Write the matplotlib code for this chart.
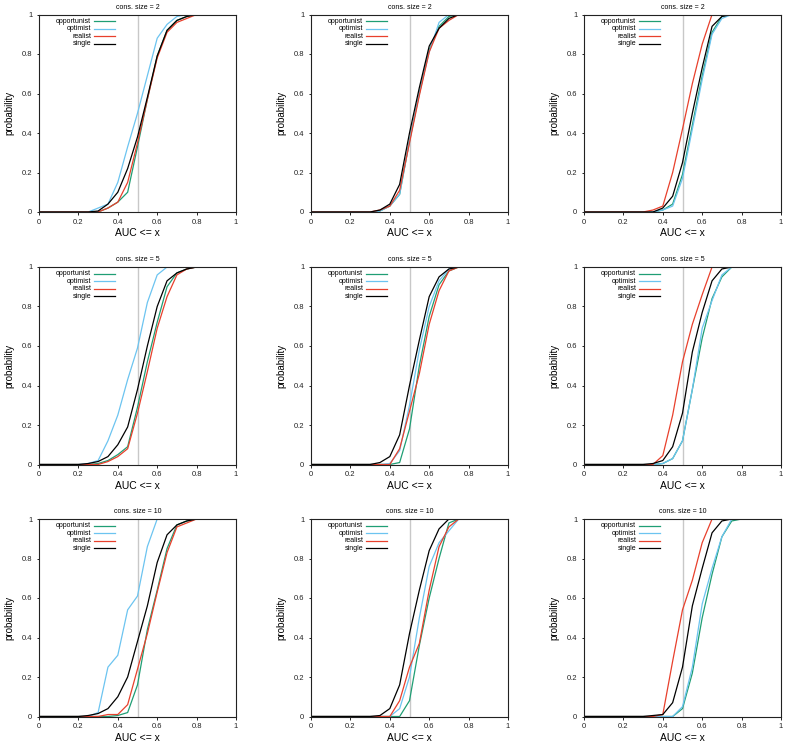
import matplotlib
matplotlib.use('Agg')
import matplotlib.pyplot as plt

plt.rcParams['font.family'] = ['Liberation Sans', 'DejaVu Sans']

auc = [0.0, 0.05, 0.1, 0.15, 0.2, 0.25, 0.3, 0.35, 0.4, 0.45, 0.5,
       0.55, 0.6, 0.65, 0.7, 0.75, 0.8, 0.85, 0.9, 0.95, 1.0]

strategies = ['opportunist', 'optimist', 'realist', 'single']
colors = {'opportunist': '#1f9e74', 'optimist': '#6cc4f0',
          'realist': '#e8402c', 'single': '#000000'}
cons_sizes = [2, 5, 10]

# rows = cons. size, columns = three experiments
c2_a_opportunist = [0, 0, 0, 0, 0, 0, 0, 0.02, 0.05, 0.10, 0.33, 0.57, 0.79, 0.92, 0.97, 0.99, 1, 1, 1, 1, 1]
c2_a_optimist = [0, 0, 0, 0, 0, 0, 0.02, 0.04, 0.15, 0.33, 0.50, 0.69, 0.88, 0.95, 0.99, 1, 1, 1, 1, 1, 1]
c2_a_realist = [0, 0, 0, 0, 0, 0, 0, 0.02, 0.05, 0.15, 0.35, 0.57, 0.78, 0.91, 0.96, 0.98, 1, 1, 1, 1, 1]
c2_a_single = [0, 0, 0, 0, 0, 0, 0.005, 0.04, 0.10, 0.22, 0.38, 0.58, 0.79, 0.92, 0.97, 0.99, 1, 1, 1, 1, 1]

c2_b_opportunist = [0, 0, 0, 0, 0, 0, 0, 0.005, 0.03, 0.09, 0.36, 0.60, 0.82, 0.94, 0.99, 1, 1, 1, 1, 1, 1]
c2_b_optimist = [0, 0, 0, 0, 0, 0, 0, 0.005, 0.03, 0.09, 0.36, 0.60, 0.81, 0.96, 1, 1, 1, 1, 1, 1, 1]
c2_b_realist = [0, 0, 0, 0, 0, 0, 0, 0.01, 0.03, 0.11, 0.35, 0.59, 0.81, 0.93, 0.97, 1, 1, 1, 1, 1, 1]
c2_b_single = [0, 0, 0, 0, 0, 0, 0, 0.01, 0.04, 0.14, 0.40, 0.63, 0.84, 0.93, 0.98, 1, 1, 1, 1, 1, 1]

c2_c_opportunist = [0, 0, 0, 0, 0, 0, 0, 0, 0.01, 0.04, 0.19, 0.44, 0.69, 0.91, 0.99, 1, 1, 1, 1, 1, 1]
c2_c_optimist = [0, 0, 0, 0, 0, 0, 0, 0, 0.01, 0.03, 0.17, 0.42, 0.67, 0.90, 0.98, 1, 1, 1, 1, 1, 1]
c2_c_realist = [0, 0, 0, 0, 0, 0, 0, 0.01, 0.03, 0.20, 0.42, 0.65, 0.85, 1, 1, 1, 1, 1, 1, 1, 1]
c2_c_single = [0, 0, 0, 0, 0, 0, 0, 0, 0.02, 0.08, 0.25, 0.50, 0.73, 0.94, 0.99, 1, 1, 1, 1, 1, 1]

c5_a_opportunist = [0, 0, 0, 0, 0, 0, 0.005, 0.02, 0.05, 0.09, 0.29, 0.52, 0.72, 0.90, 0.97, 0.99, 1, 1, 1, 1, 1]
c5_a_optimist = [0, 0, 0, 0, 0, 0.005, 0.02, 0.12, 0.25, 0.43, 0.59, 0.82, 0.96, 1, 1, 1, 1, 1, 1, 1, 1]
c5_a_realist = [0, 0, 0, 0, 0, 0, 0, 0.015, 0.04, 0.08, 0.26, 0.47, 0.69, 0.85, 0.96, 0.99, 1, 1, 1, 1, 1]
c5_a_single = [0, 0, 0, 0, 0, 0.005, 0.015, 0.04, 0.10, 0.19, 0.38, 0.60, 0.80, 0.93, 0.97, 0.99, 1, 1, 1, 1, 1]

c5_b_opportunist = [0, 0, 0, 0, 0, 0, 0, 0, 0, 0.01, 0.18, 0.50, 0.75, 0.91, 0.98, 1, 1, 1, 1, 1, 1]
c5_b_optimist = [0, 0, 0, 0, 0, 0, 0, 0, 0.005, 0.07, 0.30, 0.58, 0.80, 0.93, 0.99, 1, 1, 1, 1, 1, 1]
c5_b_realist = [0, 0, 0, 0, 0, 0, 0, 0, 0, 0.08, 0.27, 0.46, 0.71, 0.88, 0.98, 1, 1, 1, 1, 1, 1]
c5_b_single = [0, 0, 0, 0, 0, 0, 0, 0.01, 0.04, 0.15, 0.40, 0.63, 0.85, 0.95, 0.99, 1, 1, 1, 1, 1, 1]

c5_c_opportunist = [0, 0, 0, 0, 0, 0, 0, 0, 0.005, 0.03, 0.12, 0.38, 0.64, 0.84, 0.95, 1, 1, 1, 1, 1, 1]
c5_c_optimist = [0, 0, 0, 0, 0, 0, 0, 0, 0.005, 0.03, 0.12, 0.38, 0.69, 0.83, 0.96, 1, 1, 1, 1, 1, 1]
c5_c_realist = [0, 0, 0, 0, 0, 0, 0, 0, 0.045, 0.25, 0.52, 0.71, 0.86, 1, 1, 1, 1, 1, 1, 1, 1]
c5_c_single = [0, 0, 0, 0, 0, 0, 0, 0.005, 0.02, 0.09, 0.26, 0.57, 0.77, 0.93, 0.99, 1, 1, 1, 1, 1, 1]

c10_a_opportunist = [0, 0, 0, 0, 0, 0, 0, 0, 0.005, 0.02, 0.16, 0.44, 0.64, 0.85, 0.97, 0.99, 1, 1, 1, 1, 1]
c10_a_optimist = [0, 0, 0, 0, 0, 0, 0.02, 0.25, 0.31, 0.54, 0.61, 0.86, 1, 1, 1, 1, 1, 1, 1, 1, 1]
c10_a_realist = [0, 0, 0, 0, 0, 0, 0, 0.01, 0.01, 0.06, 0.24, 0.42, 0.63, 0.83, 0.96, 0.98, 1, 1, 1, 1, 1]
c10_a_single = [0, 0, 0, 0, 0, 0.005, 0.015, 0.04, 0.10, 0.20, 0.38, 0.56, 0.78, 0.92, 0.97, 0.99, 1, 1, 1, 1, 1]

c10_b_opportunist = [0, 0, 0, 0, 0, 0, 0, 0, 0, 0, 0.08, 0.36, 0.60, 0.80, 0.98, 1, 1, 1, 1, 1, 1]
c10_b_optimist = [0, 0, 0, 0, 0, 0, 0, 0, 0, 0.04, 0.20, 0.50, 0.76, 0.88, 0.94, 1, 1, 1, 1, 1, 1]
c10_b_realist = [0, 0, 0, 0, 0, 0, 0, 0, 0, 0.08, 0.25, 0.37, 0.64, 0.86, 0.96, 1, 1, 1, 1, 1, 1]
c10_b_single = [0, 0, 0, 0, 0, 0, 0, 0.005, 0.04, 0.16, 0.42, 0.64, 0.84, 0.95, 1, 1, 1, 1, 1, 1, 1]

c10_c_opportunist = [0, 0, 0, 0, 0, 0, 0, 0, 0, 0, 0.04, 0.22, 0.50, 0.72, 0.91, 0.99, 1, 1, 1, 1, 1]
c10_c_optimist = [0, 0, 0, 0, 0, 0, 0, 0, 0, 0, 0.05, 0.25, 0.57, 0.75, 0.91, 1, 1, 1, 1, 1, 1]
c10_c_realist = [0, 0, 0, 0, 0, 0, 0, 0, 0.01, 0.28, 0.54, 0.69, 0.88, 1, 1, 1, 1, 1, 1, 1, 1]
c10_c_single = [0, 0, 0, 0, 0, 0, 0, 0.005, 0.01, 0.07, 0.25, 0.56, 0.75, 0.93, 0.99, 1, 1, 1, 1, 1, 1]

panels = [
    [[c2_a_opportunist, c2_a_optimist, c2_a_realist, c2_a_single],
     [c2_b_opportunist, c2_b_optimist, c2_b_realist, c2_b_single],
     [c2_c_opportunist, c2_c_optimist, c2_c_realist, c2_c_single]],
    [[c5_a_opportunist, c5_a_optimist, c5_a_realist, c5_a_single],
     [c5_b_opportunist, c5_b_optimist, c5_b_realist, c5_b_single],
     [c5_c_opportunist, c5_c_optimist, c5_c_realist, c5_c_single]],
    [[c10_a_opportunist, c10_a_optimist, c10_a_realist, c10_a_single],
     [c10_b_opportunist, c10_b_optimist, c10_b_realist, c10_b_single],
     [c10_c_opportunist, c10_c_optimist, c10_c_realist, c10_c_single]],
]

W, H = 785, 743
fig = plt.figure(figsize=(W / 100, H / 100), dpi=100)

lefts = [39, 311, 584]
tops = [14.5, 267, 519]
aw, ah = 197, 197.5

for r in range(3):
    for c in range(3):
        ax = fig.add_axes([lefts[c] / W, 1 - (tops[r] + ah) / H, aw / W, ah / H])
        ax.axvline(0.5, color='#c8c8c8', lw=1.0, zorder=1)
        for k, s in enumerate(strategies):
            ax.plot(auc, panels[r][c][k], color=colors[s], lw=0.9, zorder=2)
        # legend, gnuplot style (labels right aligned, sample to the right)
        for k, s in enumerate(strategies):
            yy = 0.967 - k * 0.038
            ax.text(0.264, yy, s, transform=ax.transAxes, ha='right', va='center',
                    fontsize=5)
            ax.plot([0.279, 0.386], [yy, yy], transform=ax.transAxes,
                    color=colors[s], lw=0.9)
        ax.set_xlim(0, 1)
        ax.set_ylim(0, 1)
        ticks = [0, 0.2, 0.4, 0.6, 0.8, 1]
        labels = ['0', '0.2', '0.4', '0.6', '0.8', '1']
        ax.set_xticks(ticks)
        ax.set_xticklabels(labels)
        ax.set_yticks(ticks)
        ax.set_yticklabels(labels)
        ax.tick_params(direction='out', length=1.8, width=0.7, labelsize=5.5,
                       pad=3, colors='#222222', labelcolor='#222222')
        for sp in ax.spines.values():
            sp.set_color('#222222')
            sp.set_linewidth(0.8)
        ax.set_title('cons. size = %d' % cons_sizes[r], fontsize=5, pad=4)
        ax.set_xlabel('AUC <= x', fontsize=7.5, labelpad=2)
        ax.set_ylabel('probability', fontsize=7, labelpad=5)

fig.savefig('out.png', dpi=100)
